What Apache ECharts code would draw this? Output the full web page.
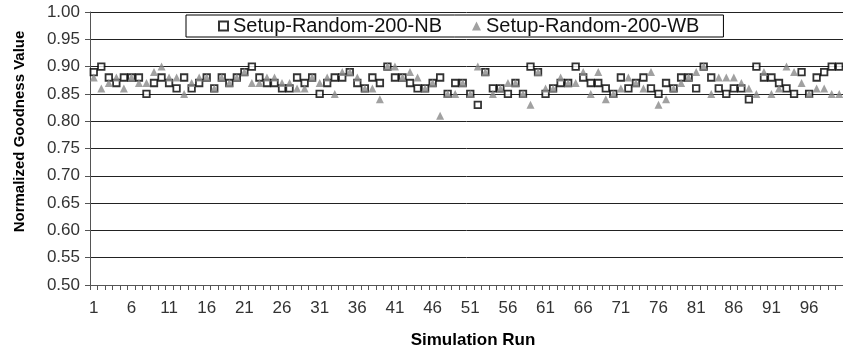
<!DOCTYPE html>
<html>
<head>
<meta charset="utf-8">
<script src="https://cdn.jsdelivr.net/npm/echarts@6/dist/echarts.min.js"></script>
<style>
  html, body { margin: 0; padding: 0; background: #fff; }
  #chart { width: 843px; height: 356px; }
</style>
</head>
<body>
<div id="chart"></div>
<script>
// simulation runs 1..100
const runs = [];
for (let i = 1; i <= 100; i++) runs.push(String(i));

// Setup-Random-200-NB (hollow squares)
const nbValues = [
  0.89, 0.90, 0.88, 0.87, 0.88, 0.88, 0.88, 0.85, 0.87, 0.88,
  0.87, 0.86, 0.88, 0.86, 0.87, 0.88, 0.86, 0.88, 0.87, 0.88,
  0.89, 0.90, 0.88, 0.87, 0.87, 0.86, 0.86, 0.88, 0.87, 0.88,
  0.85, 0.87, 0.88, 0.88, 0.89, 0.87, 0.86, 0.88, 0.87, 0.90,
  0.88, 0.88, 0.87, 0.86, 0.86, 0.87, 0.88, 0.85, 0.87, 0.87,
  0.85, 0.83, 0.89, 0.86, 0.86, 0.85, 0.87, 0.85, 0.90, 0.89,
  0.85, 0.86, 0.87, 0.87, 0.90, 0.88, 0.87, 0.87, 0.86, 0.85,
  0.88, 0.86, 0.87, 0.88, 0.86, 0.85, 0.87, 0.86, 0.88, 0.88,
  0.86, 0.90, 0.88, 0.86, 0.85, 0.86, 0.86, 0.84, 0.90, 0.88,
  0.88, 0.87, 0.86, 0.85, 0.89, 0.85, 0.88, 0.89, 0.90, 0.90
];

// Setup-Random-200-WB (grey triangles)
const wbValues = [
  0.88, 0.86, 0.87, 0.88, 0.86, 0.88, 0.87, 0.87, 0.89, 0.90,
  0.88, 0.88, 0.85, 0.87, 0.88, 0.88, 0.86, 0.88, 0.87, 0.88,
  0.89, 0.87, 0.87, 0.88, 0.88, 0.87, 0.87, 0.86, 0.86, 0.88,
  0.87, 0.88, 0.85, 0.89, 0.89, 0.88, 0.86, 0.86, 0.84, 0.90,
  0.90, 0.88, 0.89, 0.88, 0.86, 0.87, 0.81, 0.85, 0.85, 0.87,
  0.85, 0.90, 0.89, 0.85, 0.86, 0.87, 0.87, 0.85, 0.83, 0.89,
  0.86, 0.86, 0.88, 0.87, 0.87, 0.89, 0.85, 0.89, 0.84, 0.85,
  0.86, 0.88, 0.87, 0.86, 0.89, 0.83, 0.84, 0.86, 0.87, 0.88,
  0.89, 0.90, 0.85, 0.88, 0.88, 0.88, 0.87, 0.86, 0.85, 0.89,
  0.85, 0.86, 0.90, 0.89, 0.87, 0.85, 0.86, 0.86, 0.85, 0.85
];

const chart = echarts.init(document.getElementById('chart'));
const font = 'Arial, "Liberation Sans", sans-serif';

chart.setOption({
  animation: false,
  textStyle: { fontFamily: font },
  // plot runs off the right edge like the source image
  grid: { left: 90, top: 12, width: 762, height: 273 },
  legend: {
    left: 186,
    top: 15,
    padding: [1, 24, 1, 32],
    itemGap: 30,
    itemWidth: 9,
    itemHeight: 9,
    borderColor: '#000',
    borderWidth: 1,
    backgroundColor: '#fff',
    textStyle: { fontSize: 20, color: '#111', fontFamily: font },
    data: ['Setup-Random-200-NB', 'Setup-Random-200-WB']
  },
  xAxis: {
    type: 'category',
    data: runs,
    name: 'Simulation Run',
    nameLocation: 'middle',
    nameGap: 47,
    nameTextStyle: { fontSize: 17, fontWeight: 'bold', color: '#000', padding: [0, 0, 0, 13] },
    axisLine: { lineStyle: { color: '#555', width: 1 } },
    axisTick: { show: true, interval: 0, length: 5, lineStyle: { color: '#555' } },
    axisLabel: { interval: 4, fontSize: 17, color: '#333', margin: 15 },
    splitLine: { show: false }
  },
  yAxis: {
    type: 'value',
    min: 0.5,
    max: 1.0,
    interval: 0.05,
    name: 'Normalized Goodness Value',
    nameLocation: 'middle',
    nameGap: 63,
    nameTextStyle: { fontSize: 15, fontWeight: 'bold', color: '#000', padding: [0, 0, 0, 34] },
    axisLine: { show: true, lineStyle: { color: '#555', width: 1 } },
    axisTick: { show: true, length: 5, lineStyle: { color: '#555' } },
    axisLabel: {
      fontSize: 17,
      color: '#333',
      margin: 10,
      formatter: v => v.toFixed(2)
    },
    splitLine: { lineStyle: { color: '#222', width: 1 } }
  },
  series: [
    {
      name: 'Setup-Random-200-NB',
      type: 'scatter',
      data: nbValues,
      symbol: 'rect',
      symbolSize: 6.5,
      itemStyle: { color: '#fff', borderColor: '#000', borderWidth: 1.8 }
    },
    {
      name: 'Setup-Random-200-WB',
      type: 'scatter',
      data: wbValues,
      symbol: 'triangle',
      symbolSize: 8,
      itemStyle: { color: '#8a8a8a' }
    }
  ]
});
</script>
</body>
</html>
